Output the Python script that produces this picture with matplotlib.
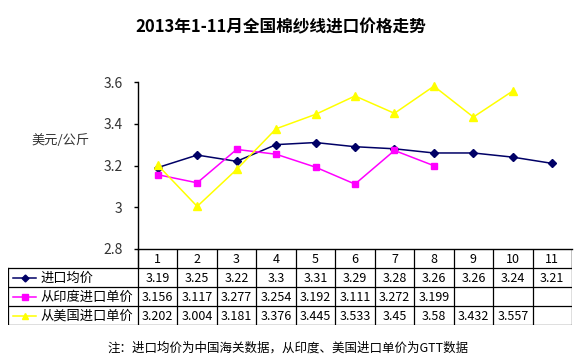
import numpy as np
import matplotlib.pyplot as plt

plt.rcParams['font.family'] = ['Noto Sans CJK SC', 'DejaVu Sans']

# données
months = ["1", "2", "3", "4", "5", "6", "7", "8", "9", "10", "11"]
avg_price = [3.19, 3.25, 3.22, 3.3, 3.31, 3.29, 3.28, 3.26, 3.26, 3.24, 3.21]
india_price = [3.156, 3.117, 3.277, 3.254, 3.192, 3.111, 3.272, 3.199]
usa_price = [3.202, 3.004, 3.181, 3.376, 3.445, 3.533, 3.45, 3.58, 3.432, 3.557]
series_names = ["进口均价", "从印度进口单价", "从美国进口单价"]
y_ticks = [2.8, 3.0, 3.2, 3.4, 3.6]
y_tick_labels = ["2.8", "3", "3.2", "3.4", "3.6"]

colors = ["#000066", "#FF00FF", "#FFFF00"]
markers = ["D", "s", "^"]
msizes = [4, 5, 5.5]

W, H = 580, 361
fig = plt.figure(figsize=(W / 100, H / 100), dpi=100)

def fx(px):
    return px / W

def fy(px):
    return 1 - px / H

left, right, top, axis_bottom, table_bottom = 138, 572, 82, 249, 325

# --- graphique principal ---
ax = fig.add_axes([fx(left), fy(axis_bottom), fx(right) - fx(left), fy(top) - fy(axis_bottom)])
all_series = [avg_price, india_price, usa_price]
for vals, c, m, ms in zip(all_series, colors, markers, msizes):
    x = np.arange(1, len(vals) + 1)
    ax.plot(x, vals, color=c, marker=m, markersize=ms, linewidth=1.1,
            markeredgecolor=c, zorder=3)
ax.set_xlim(0.5, 11.5)
ax.set_ylim(2.8, 3.6)
ax.set_yticks(y_ticks)
ax.set_yticklabels(y_tick_labels, fontsize=10, color="#333333")
ax.set_xticks([])
ax.tick_params(axis="y", direction="out", length=3, width=1, pad=8)
for s in ["top", "right"]:
    ax.spines[s].set_visible(False)
ax.spines["left"].set_linewidth(1)
ax.spines["bottom"].set_linewidth(1)

# --- tableau ---
n = len(months)
x_left = 0.5 - (left - 8) / ((right - left) / n)
tab = fig.add_axes([fx(8), fy(table_bottom), fx(right) - fx(8), fy(axis_bottom) - fy(table_bottom)])
tab.set_xlim(x_left, 11.5)
tab.set_ylim(4, 0)
tab.axis("off")

lw = 0.9
# ligne d'en-tête
tab.plot([0.5, 0.5], [0, 1], color="black", lw=lw)
for i in range(n + 1):
    tab.plot([0.5 + i, 0.5 + i], [0, 4], color="black", lw=lw)
for r in range(1, 5):
    tab.plot([x_left, 11.5], [r, r], color="black", lw=lw)
tab.plot([x_left, x_left], [1, 4], color="black", lw=lw)
tab.plot([11.5, 11.5], [0, 1], color="black", lw=lw)

for i, m in enumerate(months):
    tab.text(i + 1, 0.55, m, ha="center", va="center", fontsize=9)

for r, (vals, name, c, m, ms) in enumerate(zip(all_series, series_names, colors, markers, msizes)):
    yrow = r + 1.55
    tab.plot([x_left + 0.12, x_left + 0.72], [yrow, yrow], color=c, lw=1.1)
    tab.plot([x_left + 0.42], [yrow], color=c, marker=m, markersize=ms - 0.5)
    tab.text(x_left + 0.82, yrow, name, ha="left", va="center", fontsize=9.5)
    for i, v in enumerate(vals):
        tab.text(i + 1, yrow, f"{v:g}", ha="center", va="center", fontsize=9)

# --- textes ---
fig.text(fx(281), fy(27), "2013年1-11月全国棉纱线进口价格走势", ha="center", va="center",
         fontsize=12, fontweight="bold")
fig.text(fx(61), fy(140), "美元/公斤", ha="center", va="center", fontsize=9.5, color="#333333")
fig.text(fx(288), fy(348), "注：进口均价为中国海关数据，从印度、美国进口单价为GTT数据",
         ha="center", va="center", fontsize=9)

fig.savefig("out.png", dpi=100)
